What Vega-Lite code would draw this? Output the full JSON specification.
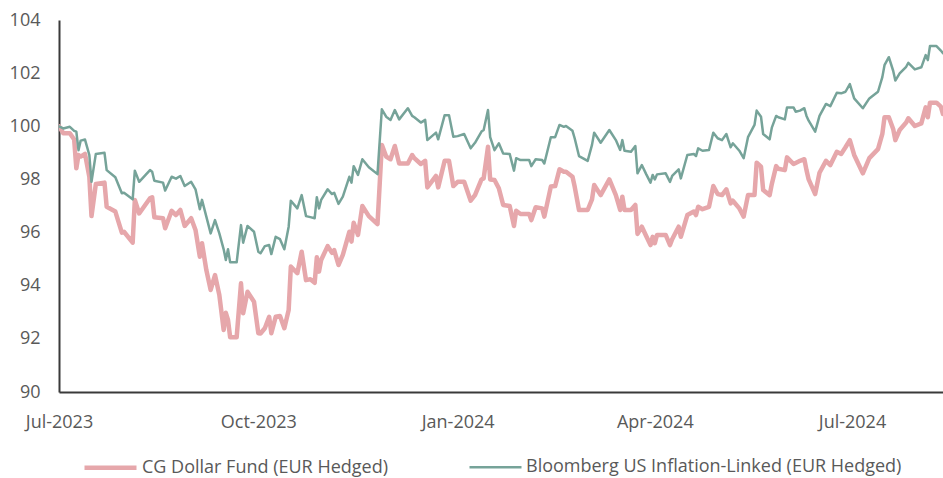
{
  "$schema": "https://vega.github.io/schema/vega-lite/v6.json",
  "autosize": {"type": "none"},
  "width": 884,
  "height": 372,
  "padding": {"left": 59, "top": 20, "right": 0, "bottom": 86},
  "background": "white",
  "config": {
    "view": {"stroke": null},
    "font": "Open Sans",
    "axis": {"labelFont": "Open Sans", "labelFontSize": 18, "labelColor": "#595959", "grid": false, "ticks": false, "domainColor": "#3a3a3a", "domainWidth": 2, "title": null},
    "legend": {"labelFont": "Open Sans", "labelFontSize": 18, "labelColor": "#595959", "labelLimit": 0}
  },
  "data": {"values": [
    {"d":"2023-07-01","cg":100.0,"bb":100.0},
    {"d":"2023-07-03","cg":99.74,"bb":99.92},
    {"d":"2023-07-06","cg":99.74,"bb":99.98},
    {"d":"2023-07-08","cg":99.5,"bb":99.83},
    {"d":"2023-07-09","cg":98.42,"bb":99.8},
    {"d":"2023-07-10","cg":98.92,"bb":99.1},
    {"d":"2023-07-11","cg":98.86,"bb":99.46},
    {"d":"2023-07-13","cg":98.96,"bb":99.5},
    {"d":"2023-07-15","cg":98.1,"bb":98.92},
    {"d":"2023-07-16","cg":96.62,"bb":97.91},
    {"d":"2023-07-18","cg":97.83,"bb":98.96},
    {"d":"2023-07-22","cg":97.88,"bb":99.0},
    {"d":"2023-07-23","cg":96.97,"bb":98.35},
    {"d":"2023-07-27","cg":96.79,"bb":98.08},
    {"d":"2023-07-30","cg":96.0,"bb":97.48},
    {"d":"2023-07-31","cg":96.03,"bb":97.5},
    {"d":"2023-08-04","cg":95.62,"bb":97.25},
    {"d":"2023-08-05","cg":97.23,"bb":98.33},
    {"d":"2023-08-07","cg":96.72,"bb":97.91},
    {"d":"2023-08-12","cg":97.29,"bb":98.35},
    {"d":"2023-08-13","cg":97.33,"bb":98.29},
    {"d":"2023-08-14","cg":96.58,"bb":97.95},
    {"d":"2023-08-18","cg":96.54,"bb":97.88},
    {"d":"2023-08-19","cg":96.16,"bb":97.58},
    {"d":"2023-08-22","cg":96.82,"bb":98.1},
    {"d":"2023-08-24","cg":96.66,"bb":98.03},
    {"d":"2023-08-26","cg":96.85,"bb":98.13},
    {"d":"2023-08-28","cg":96.25,"bb":97.75},
    {"d":"2023-08-31","cg":96.54,"bb":97.91},
    {"d":"2023-09-02","cg":96.1,"bb":97.63},
    {"d":"2023-09-04","cg":95.09,"bb":96.88},
    {"d":"2023-09-05","cg":95.6,"bb":97.23},
    {"d":"2023-09-07","cg":94.59,"bb":96.6},
    {"d":"2023-09-09","cg":93.84,"bb":95.97},
    {"d":"2023-09-11","cg":94.4,"bb":96.47},
    {"d":"2023-09-13","cg":93.65,"bb":95.97},
    {"d":"2023-09-15","cg":92.33,"bb":95.37},
    {"d":"2023-09-16","cg":92.98,"bb":94.97},
    {"d":"2023-09-17","cg":92.71,"bb":95.37},
    {"d":"2023-09-18","cg":92.06,"bb":94.88},
    {"d":"2023-09-21","cg":92.06,"bb":94.88},
    {"d":"2023-09-23","cg":94.09,"bb":96.28},
    {"d":"2023-09-24","cg":92.96,"bb":95.62},
    {"d":"2023-09-26","cg":93.77,"bb":96.25},
    {"d":"2023-09-29","cg":93.4,"bb":96.03},
    {"d":"2023-10-01","cg":92.21,"bb":95.28},
    {"d":"2023-10-02","cg":92.2,"bb":95.22},
    {"d":"2023-10-04","cg":92.4,"bb":95.49},
    {"d":"2023-10-06","cg":92.83,"bb":95.53},
    {"d":"2023-10-07","cg":92.21,"bb":95.19},
    {"d":"2023-10-09","cg":92.83,"bb":95.84},
    {"d":"2023-10-11","cg":92.86,"bb":95.75},
    {"d":"2023-10-13","cg":92.4,"bb":95.37},
    {"d":"2023-10-15","cg":93.09,"bb":96.22},
    {"d":"2023-10-16","cg":94.72,"bb":97.2},
    {"d":"2023-10-19","cg":94.47,"bb":96.91},
    {"d":"2023-10-21","cg":95.28,"bb":97.41},
    {"d":"2023-10-23","cg":94.21,"bb":96.62},
    {"d":"2023-10-25","cg":94.24,"bb":96.58},
    {"d":"2023-10-27","cg":94.11,"bb":96.54},
    {"d":"2023-10-28","cg":95.07,"bb":97.33},
    {"d":"2023-10-29","cg":94.53,"bb":96.91},
    {"d":"2023-10-30","cg":94.97,"bb":97.23},
    {"d":"2023-11-02","cg":95.49,"bb":97.63},
    {"d":"2023-11-04","cg":95.24,"bb":97.45},
    {"d":"2023-11-05","cg":95.34,"bb":97.5},
    {"d":"2023-11-07","cg":94.78,"bb":97.08},
    {"d":"2023-11-09","cg":95.16,"bb":97.35},
    {"d":"2023-11-12","cg":96.03,"bb":98.1},
    {"d":"2023-11-13","cg":95.66,"bb":97.88},
    {"d":"2023-11-14","cg":96.37,"bb":98.5},
    {"d":"2023-11-16","cg":95.91,"bb":98.17},
    {"d":"2023-11-18","cg":97.0,"bb":98.76},
    {"d":"2023-11-21","cg":96.62,"bb":98.46},
    {"d":"2023-11-25","cg":96.32,"bb":98.2},
    {"d":"2023-11-27","cg":99.3,"bb":100.64},
    {"d":"2023-11-29","cg":98.86,"bb":100.36},
    {"d":"2023-12-01","cg":98.76,"bb":100.24},
    {"d":"2023-12-03","cg":99.26,"bb":100.61},
    {"d":"2023-12-05","cg":98.6,"bb":100.26},
    {"d":"2023-12-09","cg":98.6,"bb":100.68},
    {"d":"2023-12-11","cg":98.92,"bb":100.39},
    {"d":"2023-12-12","cg":98.8,"bb":100.34},
    {"d":"2023-12-15","cg":98.58,"bb":100.14},
    {"d":"2023-12-17","cg":98.7,"bb":100.24},
    {"d":"2023-12-18","cg":97.7,"bb":99.48},
    {"d":"2023-12-22","cg":98.13,"bb":99.76},
    {"d":"2023-12-23","cg":97.7,"bb":99.51},
    {"d":"2023-12-26","cg":98.7,"bb":100.42},
    {"d":"2023-12-28","cg":98.7,"bb":100.42},
    {"d":"2023-12-30","cg":97.75,"bb":99.61},
    {"d":"2024-01-01","cg":97.91,"bb":99.63},
    {"d":"2024-01-04","cg":97.91,"bb":99.71},
    {"d":"2024-01-07","cg":97.2,"bb":99.17},
    {"d":"2024-01-09","cg":97.41,"bb":99.38},
    {"d":"2024-01-12","cg":98.0,"bb":99.8},
    {"d":"2024-01-13","cg":98.04,"bb":99.86},
    {"d":"2024-01-15","cg":99.23,"bb":100.61},
    {"d":"2024-01-16","cg":98.0,"bb":99.59},
    {"d":"2024-01-18","cg":97.98,"bb":99.1},
    {"d":"2024-01-20","cg":97.67,"bb":99.36},
    {"d":"2024-01-22","cg":97.04,"bb":98.98},
    {"d":"2024-01-25","cg":97.0,"bb":98.96},
    {"d":"2024-01-27","cg":96.25,"bb":98.33},
    {"d":"2024-01-28","cg":96.82,"bb":98.8},
    {"d":"2024-01-30","cg":96.7,"bb":98.73},
    {"d":"2024-02-03","cg":96.7,"bb":98.73},
    {"d":"2024-02-04","cg":96.47,"bb":98.5},
    {"d":"2024-02-06","cg":96.95,"bb":98.76},
    {"d":"2024-02-09","cg":96.91,"bb":98.73},
    {"d":"2024-02-10","cg":96.6,"bb":98.6},
    {"d":"2024-02-13","cg":97.73,"bb":99.59},
    {"d":"2024-02-15","cg":97.75,"bb":99.59},
    {"d":"2024-02-17","cg":98.38,"bb":100.05},
    {"d":"2024-02-19","cg":98.29,"bb":99.98},
    {"d":"2024-02-20","cg":98.29,"bb":100.01},
    {"d":"2024-02-23","cg":98.1,"bb":99.83},
    {"d":"2024-02-24","cg":97.73,"bb":99.55},
    {"d":"2024-02-26","cg":96.85,"bb":98.88},
    {"d":"2024-03-01","cg":96.85,"bb":98.7},
    {"d":"2024-03-03","cg":97.25,"bb":99.3},
    {"d":"2024-03-04","cg":97.79,"bb":99.76},
    {"d":"2024-03-07","cg":97.41,"bb":99.38},
    {"d":"2024-03-11","cg":98.0,"bb":99.86},
    {"d":"2024-03-14","cg":97.41,"bb":99.48},
    {"d":"2024-03-16","cg":96.85,"bb":99.11},
    {"d":"2024-03-17","cg":97.35,"bb":99.48},
    {"d":"2024-03-18","cg":96.85,"bb":99.08},
    {"d":"2024-03-21","cg":96.85,"bb":99.04},
    {"d":"2024-03-23","cg":97.04,"bb":99.26},
    {"d":"2024-03-24","cg":95.95,"bb":98.23},
    {"d":"2024-03-26","cg":96.22,"bb":98.54},
    {"d":"2024-03-28","cg":95.87,"bb":98.2},
    {"d":"2024-03-30","cg":95.53,"bb":97.88},
    {"d":"2024-03-31","cg":95.84,"bb":98.17},
    {"d":"2024-04-01","cg":95.6,"bb":98.0},
    {"d":"2024-04-02","cg":95.91,"bb":98.19},
    {"d":"2024-04-06","cg":95.91,"bb":98.23},
    {"d":"2024-04-08","cg":95.53,"bb":97.91},
    {"d":"2024-04-09","cg":95.75,"bb":98.13},
    {"d":"2024-04-12","cg":96.22,"bb":98.38},
    {"d":"2024-04-13","cg":95.84,"bb":98.04},
    {"d":"2024-04-16","cg":96.66,"bb":98.92},
    {"d":"2024-04-19","cg":96.79,"bb":98.96},
    {"d":"2024-04-20","cg":96.66,"bb":98.88},
    {"d":"2024-04-21","cg":96.97,"bb":99.17},
    {"d":"2024-04-23","cg":96.88,"bb":99.08},
    {"d":"2024-04-26","cg":96.97,"bb":99.11},
    {"d":"2024-04-28","cg":97.75,"bb":99.76},
    {"d":"2024-04-30","cg":97.45,"bb":99.55},
    {"d":"2024-05-02","cg":97.41,"bb":99.48},
    {"d":"2024-05-04","cg":97.63,"bb":99.71},
    {"d":"2024-05-06","cg":97.1,"bb":99.21},
    {"d":"2024-05-07","cg":97.2,"bb":99.36},
    {"d":"2024-05-10","cg":96.91,"bb":99.08},
    {"d":"2024-05-12","cg":96.6,"bb":98.8},
    {"d":"2024-05-14","cg":97.41,"bb":99.59},
    {"d":"2024-05-17","cg":97.41,"bb":100.05},
    {"d":"2024-05-18","cg":98.63,"bb":100.59},
    {"d":"2024-05-20","cg":98.48,"bb":100.36},
    {"d":"2024-05-21","cg":97.6,"bb":99.71},
    {"d":"2024-05-24","cg":97.41,"bb":99.51},
    {"d":"2024-05-25","cg":97.83,"bb":99.95},
    {"d":"2024-05-27","cg":98.5,"bb":100.39},
    {"d":"2024-05-28","cg":98.4,"bb":100.34},
    {"d":"2024-05-31","cg":98.35,"bb":100.26},
    {"d":"2024-06-01","cg":98.83,"bb":100.71},
    {"d":"2024-06-04","cg":98.58,"bb":100.71},
    {"d":"2024-06-05","cg":98.62,"bb":100.55},
    {"d":"2024-06-07","cg":98.7,"bb":100.59},
    {"d":"2024-06-09","cg":98.76,"bb":100.68},
    {"d":"2024-06-10","cg":98.35,"bb":100.39},
    {"d":"2024-06-11","cg":98.0,"bb":100.21},
    {"d":"2024-06-14","cg":97.45,"bb":99.8},
    {"d":"2024-06-16","cg":98.25,"bb":100.39},
    {"d":"2024-06-19","cg":98.7,"bb":100.84},
    {"d":"2024-06-21","cg":98.54,"bb":100.76},
    {"d":"2024-06-24","cg":99.04,"bb":101.26},
    {"d":"2024-06-26","cg":98.96,"bb":101.24},
    {"d":"2024-06-28","cg":99.21,"bb":101.3},
    {"d":"2024-06-30","cg":99.48,"bb":101.59},
    {"d":"2024-07-02","cg":98.92,"bb":101.05},
    {"d":"2024-07-06","cg":98.23,"bb":100.68},
    {"d":"2024-07-09","cg":98.8,"bb":101.05},
    {"d":"2024-07-13","cg":99.14,"bb":101.3},
    {"d":"2024-07-15","cg":99.71,"bb":101.85},
    {"d":"2024-07-16","cg":100.34,"bb":102.3},
    {"d":"2024-07-18","cg":100.34,"bb":102.6},
    {"d":"2024-07-20","cg":99.9,"bb":102.09},
    {"d":"2024-07-21","cg":99.48,"bb":101.72},
    {"d":"2024-07-23","cg":99.86,"bb":101.99},
    {"d":"2024-07-26","cg":100.14,"bb":102.24},
    {"d":"2024-07-27","cg":100.3,"bb":102.39},
    {"d":"2024-07-30","cg":100.01,"bb":102.14},
    {"d":"2024-08-02","cg":100.11,"bb":102.22},
    {"d":"2024-08-04","cg":100.71,"bb":102.68},
    {"d":"2024-08-05","cg":100.34,"bb":102.49},
    {"d":"2024-08-06","cg":100.89,"bb":103.02},
    {"d":"2024-08-09","cg":100.89,"bb":103.02},
    {"d":"2024-08-11","cg":100.74,"bb":102.85},
    {"d":"2024-08-12","cg":100.46,"bb":102.75}
  ]},
  "transform": [{"fold": ["cg", "bb"], "as": ["series", "value"]}],
  "mark": {"type": "line", "strokeCap": "round", "strokeJoin": "round", "clip": true},
  "encoding": {
    "x": {
      "field": "d", "type": "temporal",
      "scale": {"type": "utc", "domain": [{"year": 2023, "month": 7, "date": 1, "utc": true}, {"year": 2024, "month": 8, "date": 12, "utc": true}]},
      "axis": {
        "labelExpr": "utcFormat(datum.value, '%b-%Y')", "labelPadding": 21,
        "values": [{"year": 2023, "month": 7, "date": 1, "utc": true}, {"year": 2023, "month": 10, "date": 1, "utc": true}, {"year": 2024, "month": 1, "date": 1, "utc": true}, {"year": 2024, "month": 4, "date": 1, "utc": true}, {"year": 2024, "month": 7, "date": 1, "utc": true}],
        "labelFlush": false, "labelOverlap": false
      }
    },
    "y": {
      "field": "value", "type": "quantitative",
      "scale": {"domain": [90, 104], "zero": false, "nice": false},
      "axis": {"values": [90, 92, 94, 96, 98, 100, 102, 104], "labelPadding": 19, "labelFlush": false, "labelOverlap": false}
    },
    "color": {
      "field": "series", "type": "nominal",
      "scale": {"domain": ["cg", "bb"], "range": ["#e6a7ab", "#76a399"]},
      "legend": {
        "title": null, "orient": "none", "legendX": 23, "legendY": 419, "direction": "horizontal",
        "symbolType": "stroke", "symbolSize": 2704, "symbolStrokeWidth": 4,
        "labelOffset": 3, "columnPadding": 76,
        "labelExpr": "datum.label == 'cg' ? 'CG Dollar Fund (EUR Hedged)' : 'Bloomberg US Inflation-Linked (EUR Hedged)'"
      }
    },
    "strokeWidth": {
      "field": "series", "type": "nominal",
      "scale": {"domain": ["cg", "bb"], "range": [4.5, 2.5]},
      "legend": null
    },
    "order": {"field": "d", "type": "temporal"}
  }
}
